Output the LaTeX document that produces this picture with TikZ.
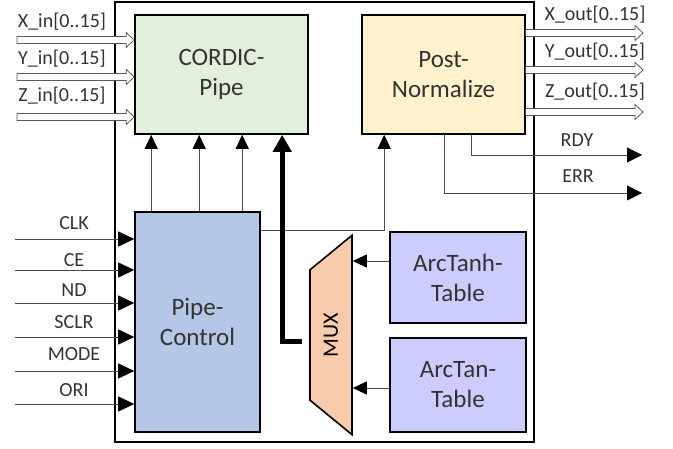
\documentclass[tikz,border=0pt]{standalone}
\usepackage{fontspec}
\setmainfont{Carlito}
\usetikzlibrary{arrows.meta,calc,shapes.geometric}
\definecolor{pipegreen}{HTML}{E2EFDA}
\definecolor{normyellow}{HTML}{FFF2CC}
\definecolor{ctrlblue}{HTML}{B4C7E7}
\definecolor{tablelilac}{HTML}{CCCCFF}
\definecolor{muxorange}{HTML}{F8CBAD}
\tikzset{
  block/.style={draw=black, line width=1.6pt, align=center, inner sep=0pt,
    text=black!80, font=\fontsize{25}{30}\selectfont},
  sig/.style={draw=black!70, line width=0.9pt,
    -{Triangle[length=14pt,width=13pt,color=black]}},
  lbl/.style={text=black!80, inner sep=0pt, font=\fontsize{20}{24}\selectfont},
  bus/.style={draw=black!65, line width=0.8pt, fill=white, line join=miter},
}
% hollow bus arrow from #1 to #2 (horizontal)
\newcommand{\busarrow}[2]{%
  \draw[bus] ($(#1)+(0,3.5)$) -- ($(#2)+(-8,3.5)$) -- ($(#2)+(-8,7.5)$) -- (#2)
    -- ($(#2)+(-8,-7.5)$) -- ($(#2)+(-8,-3.5)$) -- ($(#1)+(0,-3.5)$) -- cycle;}
\begin{document}
\begin{tikzpicture}[x=1pt, y=-1pt]
  \useasboundingbox (0,0) rectangle (673,449);
  % outer frame
  \node[draw, line width=2pt, minimum width=419pt, minimum height=440pt] (chip) at (324.5,222) {};
  % blocks
  \node[block, fill=pipegreen, minimum width=173pt, minimum height=119pt] (cordic) at (221.5,74.5) {CORDIC-\\Pipe};
  \node[block, fill=normyellow, minimum width=163pt, minimum height=119pt] (post) at (443.5,74.5) {Post-\\Normalize};
  \node[block, fill=ctrlblue, minimum width=125pt, minimum height=220pt] (pc) at (197.5,322) {Pipe-\\Control};
  \node[block, fill=tablelilac, minimum width=136pt, minimum height=91pt] (arctanh) at (458,277.5) {ArcTanh-\\Table};
  \node[block, fill=tablelilac, minimum width=136pt, minimum height=94pt] (arctan) at (458,385) {ArcTan-\\Table};
  \node[block, fill=muxorange, trapezium, trapezium left angle=50.6, trapezium right angle=50.6,
    minimum width=174pt, minimum height=42pt, rotate=90, text=black,
    font=\fontsize{22}{26}\selectfont] (mux) at (331,335) {MUX};
  % data inputs
  \foreach \n/\by/\ty in {X/40/22, Y/77/59, Z/117/96} {
    \coordinate (\n in) at (17,\by);
    \busarrow{\n in}{\n in -| cordic.west}
    \node[lbl] at (62,\ty) {\n\_in[0..15]};
  }
  % data outputs
  \foreach \n/\by/\ty in {X/33/15, Y/70/52, Z/112/92} {
    \coordinate (\n out) at (643,\by);
    \busarrow{\n out -| post.east}{\n out}
    \node[lbl] at (595,\ty) {\n\_out[0..15]};
  }
  % control inputs
  \foreach \s/\ly/\ty in {CLK/239/223, CE/270/260, ND/303/290, SCLR/337/322, MODE/371/354, ORI/404/390} {
    \coordinate (\s) at (15,\ly);
    \draw[sig, -{Triangle[length=16pt,width=15pt,color=black]}] (\s) -- (\s -| pc.west);
    \node[lbl] at (74,\ty) {\s};
  }
  % pipe control to cordic
  \foreach \dx in {17,65,108}
    \draw[sig] ($(pc.north west)+(\dx,0)$) -- ($(cordic.south west)+(\dx,0)$);
  \draw[sig] ($(pc.north east)+(0,19)$) -| ($(post.south west)+(23,0)$);
  % tables to mux
  \draw[sig] ([yshift=16.5pt]arctanh.west) -- ([yshift=16.5pt]arctanh.west -| mux.south);
  \draw[sig] ([yshift=-3pt]arctan.west) -- ([yshift=-3pt]arctan.west -| mux.south);
  % mux to cordic
  \draw[line width=5pt, shorten <=7pt, -{Triangle[length=17pt,width=18pt]}]
    ([yshift=-7pt]mux.north) -| ($(cordic.south west)+(148,0)$);
  % status outputs
  \coordinate (rdy) at (642,155);
  \coordinate (err) at (642,193);
  \draw[sig, -{Triangle[length=15pt,width=15pt,color=black]}] ($(post.south west)+(110,0)$) |- (rdy);
  \draw[sig, -{Triangle[length=15pt,width=15pt,color=black]}] ($(post.south west)+(83,0)$) |- (err);
  \node[lbl] at (577,140) {RDY};
  \node[lbl] at (578,176) {ERR};
\end{tikzpicture}
\end{document}
